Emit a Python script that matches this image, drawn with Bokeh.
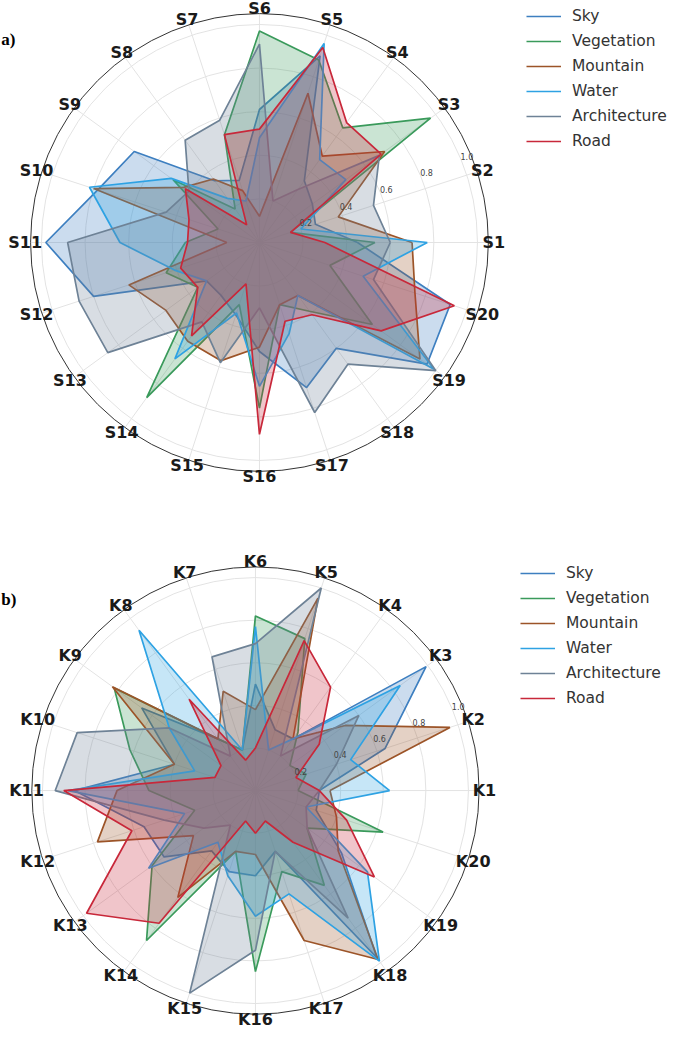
import numpy as np
from bokeh.plotting import figure
from bokeh.models import Range1d
from bokeh.layouts import column
from bokeh.embed import file_html
from bokeh.resources import INLINE
from bokeh.core.properties import value

series_names = ["Sky", "Vegetation", "Mountain", "Water", "Architecture", "Road"]
series_colors = ["#3d7fc0", "#3a9a5b", "#9c5428", "#2ea2e3", "#6e8296", "#c8283a"]

labels_a = [f"S{i}" for i in range(1, 21)]
labels_b = [f"K{i}" for i in range(1, 21)]
radial_ticks = [0.2, 0.4, 0.6, 0.8, 1.0]
radial_tick_labels = ["0.2", "0.4", "0.6", "0.8", "1.0"]

# Panel a) values, S1..S20
a_sky = [0.45, 0.27, 0.30, 0.35, 0.90, 0.61, 0.30, 0.35, 0.71, 0.78, 0.98, 0.80, 0.30, 0.30, 0.35, 0.50, 0.70, 0.60, 0.95, 0.92]
a_vegetation = [0.53, 0.15, 0.97, 0.65, 0.88, 0.97, 0.52, 0.19, 0.49, 0.20, 0.34, 0.45, 0.35, 0.88, 0.30, 0.76, 0.30, 0.39, 0.64, 0.34]
a_mountain = [0.70, 0.38, 0.71, 0.49, 0.72, 0.12, 0.25, 0.36, 0.43, 0.80, 0.15, 0.63, 0.53, 0.56, 0.57, 0.48, 0.30, 0.30, 0.91, 0.75]
a_water = [0.77, 0.20, 0.49, 0.47, 0.96, 0.48, 0.20, 0.25, 0.50, 0.82, 0.64, 0.41, 0.30, 0.66, 0.34, 0.66, 0.44, 0.30, 0.99, 0.50]
a_architecture = [0.60, 0.55, 0.68, 0.30, 0.20, 0.91, 0.59, 0.58, 0.40, 0.45, 0.88, 0.87, 0.86, 0.45, 0.58, 0.30, 0.82, 0.69, 1.00, 0.55]
a_road = [0.30, 0.15, 0.69, 0.68, 0.94, 0.52, 0.52, 0.10, 0.42, 0.34, 0.33, 0.38, 0.35, 0.53, 0.20, 0.88, 0.38, 0.41, 0.69, 0.94]

# Panel b) values, K1..K20
b_sky = [0.30, 0.64, 0.99, 0.30, 0.30, 0.50, 0.20, 0.30, 0.66, 0.40, 0.85, 0.55, 0.53, 0.35, 0.40, 0.40, 0.30, 0.97, 0.50, 0.30]
b_vegetation = [0.20, 0.25, 0.20, 0.34, 0.75, 0.82, 0.20, 0.30, 0.82, 0.62, 0.50, 0.30, 0.60, 0.87, 0.30, 0.85, 0.40, 0.55, 0.30, 0.63]
b_mountain = [0.35, 0.96, 0.52, 0.30, 0.95, 0.38, 0.49, 0.30, 0.83, 0.40, 0.65, 0.78, 0.36, 0.62, 0.30, 0.30, 0.74, 0.98, 0.48, 0.40]
b_water = [0.63, 0.47, 0.84, 0.30, 0.20, 0.77, 0.20, 0.93, 0.50, 0.30, 0.88, 0.35, 0.62, 0.30, 0.42, 0.59, 0.51, 0.99, 0.65, 0.25]
b_architecture = [0.30, 0.40, 0.60, 0.20, 1.00, 0.69, 0.66, 0.20, 0.50, 0.88, 0.94, 0.45, 0.30, 0.20, 1.00, 0.75, 0.30, 0.74, 0.30, 0.25]
b_road = [0.30, 0.20, 0.37, 0.60, 0.74, 0.20, 0.15, 0.53, 0.20, 0.20, 0.90, 0.61, 0.98, 0.77, 0.15, 0.20, 0.15, 0.30, 0.69, 0.45]

R_MAX = 1.05
FONT = "DejaVu Sans"


def radar(series, labels, panel_tag, tag_px, width, height, xr, yr, legend_loc):
    p = figure(width=width, height=height, output_backend="svg", toolbar_location=None,
               x_range=Range1d(*xr), y_range=Range1d(*yr), min_border=0)
    p.axis.visible = False
    p.grid.visible = False
    p.outline_line_color = None
    p.background_fill_color = "white"
    px = height / (yr[1] - yr[0])

    n = len(labels)
    theta = np.deg2rad(np.arange(n) * 360.0 / n)

    # grid circles and spokes
    p.circle(x=[0] * len(radial_ticks), y=[0] * len(radial_ticks), radius=radial_ticks,
             fill_color=None, line_color="#e3e3e3", line_width=1)
    p.segment(x0=np.zeros(n), y0=np.zeros(n), x1=R_MAX * np.cos(theta), y1=R_MAX * np.sin(theta),
              line_color="#e3e3e3", line_width=1)
    p.circle(x=[0], y=[0], radius=[R_MAX], fill_color=None, line_color="#333333", line_width=1)

    # series polygons
    for name, color, vals in zip(series_names, series_colors, series):
        v = np.array(vals + vals[:1])
        t = np.append(theta, theta[0])
        xs = v * np.cos(t)
        ys = v * np.sin(t)
        p.patch(xs, ys, fill_color=color, fill_alpha=0.27, line_color=None)
        p.line(xs, ys, line_color=color, line_width=1.7, legend_label=name)

    # radial tick labels
    ang = np.deg2rad(22.5)
    p.text(x=[r * np.cos(ang) for r in radial_ticks], y=[r * np.sin(ang) for r in radial_ticks],
           text=radial_tick_labels, text_font=value(FONT), text_font_size="8px",
           text_color="#444444", text_align="center", text_baseline="middle",
           x_offset=6, y_offset=-3)

    # angular labels
    lr = 1.075
    p.text(x=lr * np.cos(theta), y=lr * np.sin(theta), text=labels,
           text_font=value(FONT), text_font_size="16px", text_font_style="bold",
           text_color="#1a1a1a", text_align="center", text_baseline="middle")

    # panel tag
    p.text(x=[xr[0] + 0.004], y=[yr[1] - tag_px / px], text=[panel_tag],
           text_font=value("Liberation Serif"), text_font_size="17px", text_font_style="bold",
           text_color="#000000", text_align="left", text_baseline="middle")

    lg = p.legend[0]
    lg.location = legend_loc
    lg.border_line_color = None
    lg.background_fill_alpha = 0
    lg.label_text_font = FONT
    lg.label_text_font_size = "15.5px"
    lg.label_text_color = "#333333"
    lg.glyph_width = 35
    lg.glyph_height = 20
    lg.label_height = 20
    lg.spacing = 5
    lg.padding = 0
    lg.margin = 0
    lg.label_standoff = 11
    return p


pa = radar([a_sky, a_vegetation, a_mountain, a_water, a_architecture, a_road], labels_a, "a)", 39,
           669, 517, (-1.188, 1.881), (-1.2616, 1.110), (526, 366))
pb = radar([b_sky, b_vegetation, b_mountain, b_water, b_architecture, b_road], labels_b, "b)", 82,
           669, 511, (-1.197, 1.944), (-1.117, 1.282), (520, 320))

layout = column(pa, pb, spacing=0)
open("out.html", "w").write(file_html(layout, INLINE))
